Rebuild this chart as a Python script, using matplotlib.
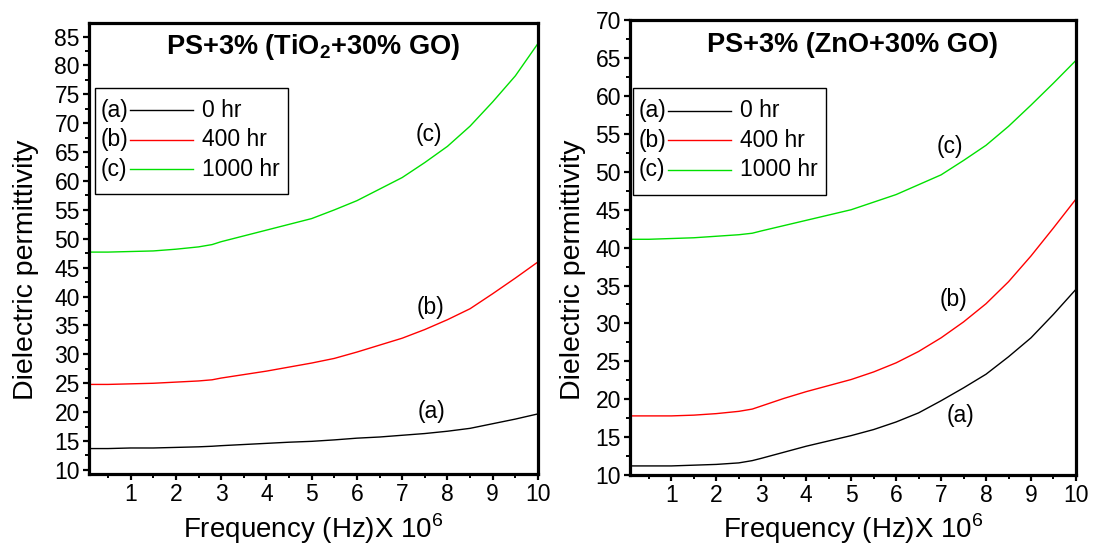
import matplotlib
matplotlib.use("Agg")
import matplotlib.pyplot as plt
from matplotlib.lines import Line2D
from matplotlib.text import Text
from matplotlib.offsetbox import AnchoredOffsetbox, DrawingArea
from matplotlib.ticker import MultipleLocator

plt.rcParams['font.family'] = ['Liberation Sans', 'DejaVu Sans']
plt.rcParams['mathtext.fontset'] = 'custom'
plt.rcParams['mathtext.rm'] = 'Liberation Sans'
plt.rcParams['mathtext.bf'] = 'Liberation Sans:bold'

# frequency (x 10^6 Hz)
freq = [0.1, 0.5, 1, 1.5, 2, 2.5, 2.8, 3, 3.5, 4, 4.5, 5, 5.5, 6, 6.5, 7, 7.5, 8, 8.5, 9, 9.5, 10]

# PS+3% (TiO2+30% GO)
tio2_0hr = [13.7, 13.7, 13.8, 13.8, 13.9, 14.0, 14.1, 14.2, 14.4, 14.6, 14.8, 14.95,
            15.2, 15.5, 15.7, 16.0, 16.3, 16.7, 17.2, 18.0, 18.8, 19.7]
tio2_400hr = [24.8, 24.8, 24.9, 25.0, 25.2, 25.4, 25.6, 25.9, 26.5, 27.1, 27.8, 28.5,
              29.3, 30.4, 31.6, 32.8, 34.3, 36.0, 37.9, 40.5, 43.2, 46.0]
tio2_1000hr = [47.7, 47.7, 47.8, 47.9, 48.2, 48.6, 49.0, 49.5, 50.5, 51.5, 52.5, 53.5,
               55.0, 56.6, 58.6, 60.6, 63.2, 66.0, 69.5, 73.7, 78.2, 83.8]

# PS+3% (ZnO+30% GO)
zno_0hr = [11.2, 11.2, 11.2, 11.3, 11.4, 11.6, 11.9, 12.2, 13.0, 13.8, 14.5, 15.2,
           16.0, 17.0, 18.2, 19.8, 21.5, 23.3, 25.6, 28.1, 31.2, 34.5]
zno_400hr = [17.8, 17.8, 17.8, 17.9, 18.1, 18.4, 18.7, 19.1, 20.1, 21.0, 21.8, 22.6,
             23.6, 24.8, 26.3, 28.1, 30.2, 32.6, 35.5, 38.9, 42.6, 46.4]
zno_1000hr = [41.1, 41.1, 41.2, 41.3, 41.5, 41.7, 41.9, 42.2, 42.9, 43.6, 44.3, 45.0,
              46.0, 47.0, 48.3, 49.6, 51.5, 53.5, 56.0, 58.8, 61.7, 64.7]

hours = ['0 hr', '400 hr', '1000 hr']
tags = ['(a)', '(b)', '(c)']
colors = ['black', '#ff0000', '#00e000']


def legend_box(ax, x, top):
    # "(a) ------ 0 hr" rows inside a square frame
    da = DrawingArea(139, 76.7, 0, 0)
    for i, (t, h, c) in enumerate(zip(tags, hours, colors)):
        yc = 60.5 - i * 21.2
        da.add_artist(Text(4.1, yc, t, fontsize=16.5, va='center', ha='left'))
        da.add_artist(Line2D([25.2, 70.6], [yc, yc], color=c, lw=1.0))
        da.add_artist(Text(76.8, yc, h, fontsize=16.5, va='center', ha='left'))
    box = AnchoredOffsetbox(loc='upper left', child=da, pad=0, borderpad=0, frameon=True,
                            bbox_to_anchor=(x, top), bbox_transform=ax.transAxes)
    box.patch.set_edgecolor('black')
    box.patch.set_linewidth(1.0)
    box.patch.set_boxstyle('square', pad=0)
    ax.add_artist(box)


def panel(ax, series, title, ylim, tag_pos, leg_pos, title_y, xlab_y, ylab_xy):
    for y, c in zip(series, colors):
        ax.plot(freq, y, color=c, lw=1.0)
    ax.set_xlim(0.08, 10)
    ax.set_ylim(*ylim)
    ax.xaxis.set_major_locator(MultipleLocator(1))
    ax.xaxis.set_minor_locator(MultipleLocator(0.5))
    ax.yaxis.set_major_locator(MultipleLocator(5))
    ax.yaxis.set_minor_locator(MultipleLocator(2.5))
    ax.tick_params(which='major', direction='out', length=4.5, width=1.6, labelsize=16.5, pad=2)
    ax.tick_params(which='minor', direction='out', length=2.6, width=1.4)
    for s in ax.spines.values():
        s.set_linewidth(2.3)
    ax.set_xlabel(r'Frequency (Hz)X 10$^{6}$', fontsize=20)
    ax.xaxis.set_label_coords(0.5, xlab_y)
    ax.xaxis.label.set_va('baseline')
    ax.set_ylabel('Dielectric permittivity', fontsize=20.5)
    ax.yaxis.set_label_coords(*ylab_xy)
    ax.yaxis.label.set_va('baseline')
    ax.text(0.5, title_y, title, transform=ax.transAxes, fontsize=19.5,
            fontweight='bold', ha='center', va='baseline')
    for t, (tx, ty) in zip(tags, tag_pos):
        ax.text(tx, ty, t, fontsize=16.5, ha='center', va='center')
    legend_box(ax, *leg_pos)


fig = plt.figure(figsize=(10.93, 5.45), dpi=100)
ax1 = fig.add_axes([0.0814, 0.1303, 0.4108, 0.827])
ax2 = fig.add_axes([0.5764, 0.1284, 0.408, 0.8345])

panel(ax1, [tio2_0hr, tio2_400hr, tio2_1000hr], r'PS+3% (TiO$_\mathbf{2}$+30% GO)',
      (9.3, 87.3), [(7.65, 20.1), (7.63, 38.1), (7.59, 68.0)],
      (0.0134, 0.8565), 0.932, -0.142, (-0.125, 0.453))
panel(ax2, [zno_0hr, zno_400hr, zno_1000hr], 'PS+3% (ZnO+30% GO)',
      (10, 70), [(7.44, 17.8), (7.28, 33.1), (7.2, 53.3)],
      (0.0074, 0.850), 0.930, -0.139, (-0.112, 0.451))

fig.savefig('out.png', dpi=100)
